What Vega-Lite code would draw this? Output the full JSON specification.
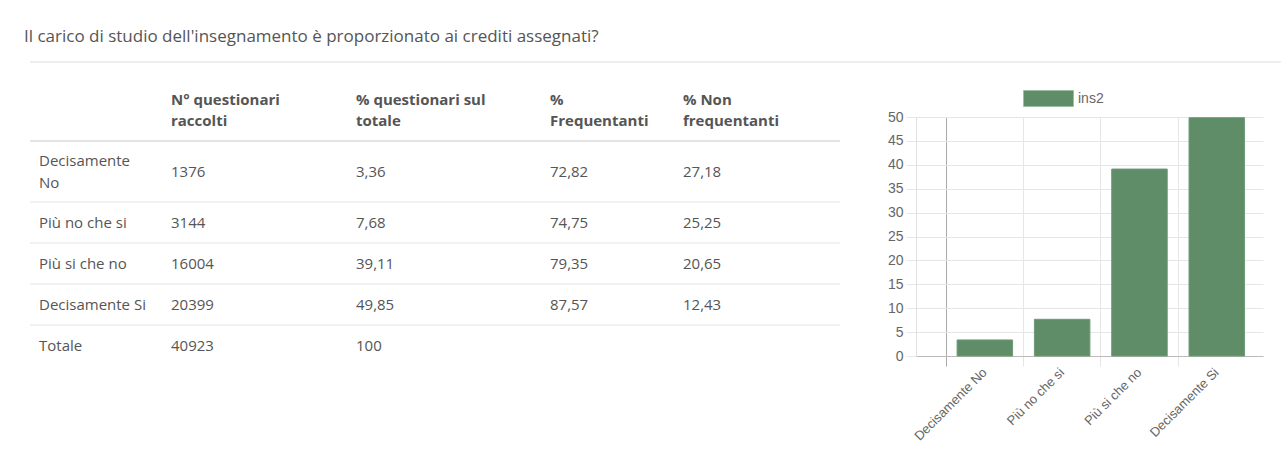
{
  "$schema": "https://vega.github.io/schema/vega-lite/v6.json",
  "padding": {"left": 24, "top": 0, "right": 0, "bottom": 0},
  "background": "white",
  "bounds": "flush",
  "spacing": 55,
  "resolve": {"legend": {"color": "independent"}},
  "config": {"view": {"stroke": null}, "font": "Open Sans"},
  "datasets": {
    "celle": [
      {"riga": 0, "colonna": 1, "testo": ""},
      {"riga": 0, "colonna": 2, "testo": "N° questionari\nraccolti"},
      {"riga": 0, "colonna": 3, "testo": "% questionari sul\ntotale"},
      {"riga": 0, "colonna": 4, "testo": "%\nFrequentanti"},
      {"riga": 0, "colonna": 5, "testo": "% Non\nfrequentanti"},
      {"riga": 1, "colonna": 1, "testo": "Decisamente\nNo"},
      {"riga": 1, "colonna": 2, "testo": "1376"},
      {"riga": 1, "colonna": 3, "testo": "3,36"},
      {"riga": 1, "colonna": 4, "testo": "72,82"},
      {"riga": 1, "colonna": 5, "testo": "27,18"},
      {"riga": 2, "colonna": 1, "testo": "Più no che si"},
      {"riga": 2, "colonna": 2, "testo": "3144"},
      {"riga": 2, "colonna": 3, "testo": "7,68"},
      {"riga": 2, "colonna": 4, "testo": "74,75"},
      {"riga": 2, "colonna": 5, "testo": "25,25"},
      {"riga": 3, "colonna": 1, "testo": "Più si che no"},
      {"riga": 3, "colonna": 2, "testo": "16004"},
      {"riga": 3, "colonna": 3, "testo": "39,11"},
      {"riga": 3, "colonna": 4, "testo": "79,35"},
      {"riga": 3, "colonna": 5, "testo": "20,65"},
      {"riga": 4, "colonna": 1, "testo": "Decisamente Si"},
      {"riga": 4, "colonna": 2, "testo": "20399"},
      {"riga": 4, "colonna": 3, "testo": "49,85"},
      {"riga": 4, "colonna": 4, "testo": "87,57"},
      {"riga": 4, "colonna": 5, "testo": "12,43"},
      {"riga": 5, "colonna": 1, "testo": "Totale"},
      {"riga": 5, "colonna": 2, "testo": "40923"},
      {"riga": 5, "colonna": 3, "testo": "100"},
      {"riga": 5, "colonna": 4, "testo": ""},
      {"riga": 5, "colonna": 5, "testo": ""}
    ],
    "separatori": [
      {"riga": 1}, {"riga": 2}, {"riga": 3}, {"riga": 4}, {"riga": 5}
    ],
    "risposte": [
      {"risposta": "Decisamente No", "valore": 3.36},
      {"risposta": "Più no che si", "valore": 7.68},
      {"risposta": "Più si che no", "valore": 39.11},
      {"risposta": "Decisamente Si", "valore": 49.85}
    ]
  },
  "vconcat": [
    {
      "width": 1257,
      "height": 62,
      "title": {
        "text": "Il carico di studio dell'insegnamento è proporzionato ai crediti assegnati?",
        "anchor": "start",
        "orient": "top",
        "offset": -59,
        "baseline": "alphabetic",
        "font": "Open Sans",
        "fontSize": 17,
        "fontWeight": "normal",
        "color": "#555555",
        "dx": -5
      },
      "data": {"values": [{"linea": 0}]},
      "mark": {"type": "rule", "color": "#eeeeee", "strokeWidth": 2},
      "encoding": {
        "y": {"field": "linea", "type": "quantitative", "scale": {"domain": [0, 1], "nice": false}, "axis": null}
      }
    },
    {
      "bounds": "flush",
      "spacing": 76,
      "resolve": {"legend": {"color": "independent"}},
      "hconcat": [
        {
          "width": 810,
          "height": 239,
          "layer": [
            {
              "data": {"name": "separatori"},
              "mark": {"type": "rule", "color": "#e4e4e4"},
              "encoding": {
                "y": {"field": "riga", "type": "quantitative", "scale": {"domain": [1, 2, 3, 4, 5], "range": [24, 85, 126, 167, 208], "nice": false, "zero": false}, "axis": null},
                "strokeWidth": {"condition": {"test": "datum.riga === 1", "value": 2}, "value": 1}
              }
            },
            {
              "data": {"name": "celle"},
              "transform": [{"filter": "datum.riga > 0 && indexof(datum.testo, '\\n') < 0"}],
              "mark": {"type": "text", "align": "left", "baseline": "middle", "font": "Open Sans", "fontSize": 15, "color": "#555555"},
              "encoding": {
                "x": {"field": "colonna", "type": "quantitative", "scale": {"domain": [1, 2, 3, 4, 5], "range": [9, 141, 326, 520, 653], "nice": false, "zero": false}, "axis": null},
                "y": {"field": "riga", "type": "quantitative", "scale": {"domain": [0, 1, 2, 3, 4, 5], "range": [-6.5, 55, 106, 147, 188, 229], "nice": false, "zero": false}, "axis": null},
                "text": {"field": "testo", "type": "nominal"}
              }
            },
            {
              "data": {"name": "celle"},
              "transform": [{"filter": "datum.riga > 0 && indexof(datum.testo, '\\n') >= 0"}],
              "mark": {"type": "text", "align": "left", "baseline": "middle", "lineBreak": "\n", "lineHeight": 21.5, "dy": -10.75, "font": "Open Sans", "fontSize": 15, "color": "#555555"},
              "encoding": {
                "x": {"field": "colonna", "type": "quantitative", "scale": {"domain": [1, 2, 3, 4, 5], "range": [9, 141, 326, 520, 653], "nice": false, "zero": false}, "axis": null},
                "y": {"field": "riga", "type": "quantitative", "scale": {"domain": [0, 1, 2, 3, 4, 5], "range": [-6.5, 55, 106, 147, 188, 229], "nice": false, "zero": false}, "axis": null},
                "text": {"field": "testo", "type": "nominal"}
              }
            },
            {
              "data": {"name": "celle"},
              "transform": [{"filter": "datum.riga === 0"}],
              "mark": {"type": "text", "align": "left", "baseline": "middle", "lineBreak": "\n", "lineHeight": 21, "dy": -10.5, "font": "Open Sans", "fontSize": 15, "fontWeight": "bold", "color": "#555555"},
              "encoding": {
                "x": {"field": "colonna", "type": "quantitative", "scale": {"domain": [1, 2, 3, 4, 5], "range": [9, 141, 326, 520, 653], "nice": false, "zero": false}, "axis": null},
                "y": {"field": "riga", "type": "quantitative", "scale": {"domain": [0, 1, 2, 3, 4, 5], "range": [-6.5, 55, 106, 147, 188, 229], "nice": false, "zero": false}, "axis": null},
                "text": {"field": "testo", "type": "nominal"}
              }
            }
          ],
          "resolve": {"scale": {"y": "independent"}}
        },
        {
          "width": 347,
          "height": 239,
          "data": {"name": "risposte"},
          "mark": {"type": "bar", "stroke": "#6e9b78", "strokeWidth": 1},
          "encoding": {
            "x": {
              "field": "risposta",
              "type": "nominal",
              "sort": null,
              "scale": {"paddingInner": 0.282, "paddingOuter": 0.385, "align": 0.69},
              "axis": {
                "title": null,
                "bandPosition": -0.196,
                "tickExtra": false,
                "grid": true,
                "gridColor": {"condition": {"test": "datum.value === 'Decisamente No'", "value": "#aaaaaa"}, "value": "#e6e6e6"},
                "tickColor": {"condition": {"test": "datum.value === 'Decisamente No'", "value": "#aaaaaa"}, "value": "#e6e6e6"},
                "tickSize": 10,
                "domainColor": "#bbbbbb",
                "labelAngle": -45,
                "labelAlign": "right",
                "labelBaseline": "middle",
                "labelPadding": 4,
                "labelFont": "Liberation Sans",
                "labelFontSize": 13,
                "labelColor": "#666666"
              }
            },
            "y": {
              "field": "valore",
              "type": "quantitative",
              "scale": {"domain": [0, 50], "nice": false},
              "axis": {
                "title": null,
                "values": [0, 5, 10, 15, 20, 25, 30, 35, 40, 45, 50],
                "grid": true,
                "gridColor": "#e6e6e6",
                "tickColor": "#e6e6e6",
                "tickSize": 10,
                "domainColor": "#e0e0e0",
                "labelPadding": 3,
                "labelFont": "Liberation Sans",
                "labelFontSize": 14,
                "labelColor": "#666666"
              }
            },
            "color": {
              "datum": "ins2",
              "scale": {"range": ["#5e8d68"]},
              "legend": {
                "orient": "none",
                "legendX": 107,
                "legendY": -44,
                "title": null,
                "padding": 0,
                "symbolType": "M-1,-0.32L1,-0.32L1,0.32L-1,0.32Z",
                "symbolSize": 2500,
                "symbolStrokeColor": "#9cc0a4",
                "symbolStrokeWidth": 1,
                "symbolOpacity": 1,
                "labelFont": "Liberation Sans",
                "labelFontSize": 14,
                "labelColor": "#666666",
                "labelOffset": 4
              }
            }
          }
        }
      ]
    }
  ]
}
